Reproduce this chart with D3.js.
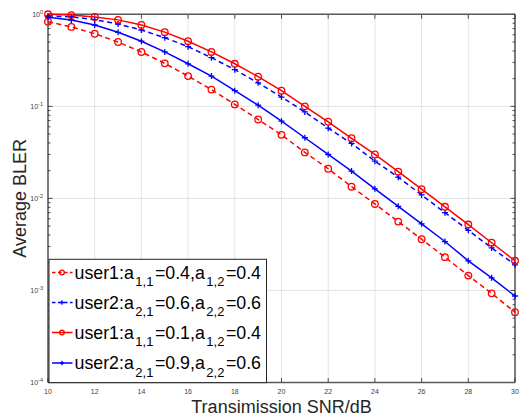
<!DOCTYPE html>
<html><head><meta charset="utf-8">
<script src="https://cdn.jsdelivr.net/npm/d3@7"></script>
<style>body{margin:0;background:#fff}svg{display:block}</style>
</head><body>
<svg id="c" width="519" height="416"></svg>
<script>
const snr = [10,11,12,13,14,15,16,17,18,19,20,21,22,23,24,25,26,27,28,29,30];
const user1A = [0.83,0.73,0.615,0.50,0.39,0.293,0.213,0.152,0.105,0.072,0.049,0.0316,0.021,0.0134,0.0087,0.0056,0.0036,0.0023,0.00145,0.00093,0.00058];
const user2A = [0.96,0.94,0.875,0.785,0.675,0.557,0.445,0.338,0.25,0.18,0.126,0.087,0.058,0.0396,0.0254,0.017,0.0109,0.0070,0.0045,0.0029,0.0019];
const user1B = [1.0,0.98,0.935,0.87,0.765,0.64,0.51,0.39,0.29,0.21,0.148,0.100,0.068,0.045,0.030,0.0195,0.0126,0.0081,0.0052,0.0033,0.0021];
const user2B = [0.93,0.867,0.765,0.637,0.51,0.39,0.29,0.213,0.148,0.103,0.069,0.0456,0.030,0.0198,0.0127,0.0082,0.0053,0.0034,0.0021,0.00137,0.00087];
const xTicks = [10,12,14,16,18,20,22,24,26,28,30];
const yTicks = [1e-4,1e-3,1e-2,1e-1,1];
const yTickExp = ["-4","-3","-2","-1","0"];
const legendParts = [
  ["user1:a","1,1","=0.4,a","1,2","=0.4"],
  ["user2:a","2,1","=0.6,a","2,2","=0.6"],
  ["user1:a","1,1","=0.1,a","1,2","=0.4"],
  ["user2:a","2,1","=0.9,a","2,2","=0.6"]
];
const seriesList = [
  {vals:user1A, color:"#ff0000", dash:"5,3.5", marker:"o"},
  {vals:user2A, color:"#0000ff", dash:"5,3.5", marker:"+"},
  {vals:user1B, color:"#ff0000", dash:null, marker:"o"},
  {vals:user2B, color:"#0000ff", dash:null, marker:"+"}
];

const svg = d3.select("#c");
const L=48, R=515, T=14.3, B=382.5;
const x = d3.scaleLinear().domain([10,30]).range([L,R]);
const y = d3.scaleLog().domain([1e-4,1]).range([B,T]);
const font = "'Liberation Sans', Arial, sans-serif";

// grid
const g = svg.append("g");
xTicks.forEach(t=>{ if(t>10&&t<30) g.append("line").attr("x1",x(t)).attr("x2",x(t)).attr("y1",T).attr("y2",B).attr("stroke","#e3e3e3").attr("stroke-width",1);});
yTicks.forEach(t=>{ if(t>1e-4&&t<1) g.append("line").attr("x1",L).attr("x2",R).attr("y1",y(t)).attr("y2",y(t)).attr("stroke","#e3e3e3").attr("stroke-width",1);});

// ticks
const ax = svg.append("g").attr("stroke","#262626");
for(let e=-4;e<0;e++){
  for(let m=2;m<=9;m++){
    const v=m*Math.pow(10,e), yy=y(v);
    ax.append("line").attr("x1",L).attr("x2",L+2.5).attr("y1",yy).attr("y2",yy).attr("stroke-width",0.8);
    ax.append("line").attr("x1",R).attr("x2",R-2.5).attr("y1",yy).attr("y2",yy).attr("stroke-width",0.8);
  }
}
yTicks.forEach(t=>{
  ax.append("line").attr("x1",L).attr("x2",L+4.5).attr("y1",y(t)).attr("y2",y(t)).attr("stroke-width",0.8);
  ax.append("line").attr("x1",R).attr("x2",R-4.5).attr("y1",y(t)).attr("y2",y(t)).attr("stroke-width",0.8);
});
xTicks.forEach(t=>{
  ax.append("line").attr("x1",x(t)).attr("x2",x(t)).attr("y1",B).attr("y2",B-4.5).attr("stroke-width",0.8);
  ax.append("line").attr("x1",x(t)).attr("x2",x(t)).attr("y1",T).attr("y2",T+4.5).attr("stroke-width",0.8);
});
// frame
svg.append("line").attr("x1",L).attr("x2",R).attr("y1",T).attr("y2",T).attr("stroke","#595959").attr("stroke-width",1.5);
svg.append("line").attr("x1",R).attr("x2",R).attr("y1",T).attr("y2",B).attr("stroke","#262626").attr("stroke-width",1.2);
svg.append("line").attr("x1",L).attr("x2",R).attr("y1",B).attr("y2",B).attr("stroke","#595959").attr("stroke-width",1.5);
svg.append("line").attr("x1",L).attr("x2",L).attr("y1",T).attr("y2",B).attr("stroke","#262626").attr("stroke-width",1.2);

// tick labels
xTicks.forEach(t=>{
  svg.append("text").attr("x",x(t)).attr("y",394).attr("text-anchor","middle")
    .attr("font-family",font).attr("font-size",7).attr("fill","#404040").text(t);
});
yTicks.forEach((t,i)=>{
  const tx = svg.append("text").attr("x",43).attr("y",y(t)+2.5).attr("text-anchor","end")
    .attr("font-family",font).attr("font-size",7).attr("fill","#404040");
  tx.append("tspan").text("10");
  tx.append("tspan").attr("dy",-3).attr("font-size",5.5).text(yTickExp[i]);
});

// axis titles
svg.append("text").attr("x",(L+R)/2).attr("y",413).attr("text-anchor","middle")
  .attr("font-family",font).attr("font-size",18).attr("fill","#262626").text("Transimission SNR/dB");
svg.append("text").attr("transform",`translate(26,${(T+B)/2}) rotate(-90)`).attr("text-anchor","middle")
  .attr("font-family",font).attr("font-size",18).attr("fill","#262626").text("Average BLER");

// series
const plot = svg.append("g");
function drawMarker(sel, type, cx, cy, color, s){
  if(type==="o"){
    sel.append("circle").attr("cx",cx).attr("cy",cy).attr("r",s).attr("fill","none").attr("stroke",color).attr("stroke-width",1.3);
  } else {
    sel.append("path").attr("d",`M${cx-s},${cy}H${cx+s}M${cx},${cy-s}V${cy+s}`).attr("stroke",color).attr("stroke-width",1.3);
  }
}
const line = d3.line().x((d,i)=>x(snr[i])).y(d=>y(d));
seriesList.forEach(s=>{
  plot.append("path").datum(s.vals).attr("d",line).attr("fill","none").attr("stroke",s.color)
    .attr("stroke-width",1.5).attr("stroke-dasharray",s.dash);
  s.vals.forEach((v,i)=>drawMarker(plot,s.marker,x(snr[i]),y(v),s.color,s.marker==="o"?3.3:3));
});

// legend
const lg = svg.append("g");
const lx0=49, ly0=259.3, lw=217.5, lh=123.3;
lg.append("rect").attr("x",lx0).attr("y",ly0).attr("width",lw).attr("height",lh).attr("fill","#fff").attr("stroke","#262626").attr("stroke-width",1);
const rows=[278.5,308.5,338.5,369];
seriesList.forEach((s,i)=>{
  const yy=rows[i]-6;
  lg.append("line").attr("x1",52).attr("x2",72.5).attr("y1",yy).attr("y2",yy).attr("stroke",s.color)
    .attr("stroke-width",1.5).attr("stroke-dasharray",s.dash?"3.5,2.5":null);
  drawMarker(lg,s.marker,62,yy,s.color,s.marker==="o"?2.3:2.2);
  const tx = lg.append("text").attr("x",74.5).attr("y",rows[i]).attr("font-family",font).attr("font-size",17.8).attr("fill","#000");
  const p = legendParts[i];
  tx.append("tspan").text(p[0]);
  tx.append("tspan").attr("dx",1.5).attr("dy",7.6).attr("font-size",13).text(p[1]);
  tx.append("tspan").attr("dx",1.5).attr("dy",-7.6).text(p[2]);
  tx.append("tspan").attr("dx",1.5).attr("dy",7.6).attr("font-size",13).text(p[3]);
  tx.append("tspan").attr("dx",1.5).attr("dy",-7.6).text(p[4]);
});
</script>
</body></html>
